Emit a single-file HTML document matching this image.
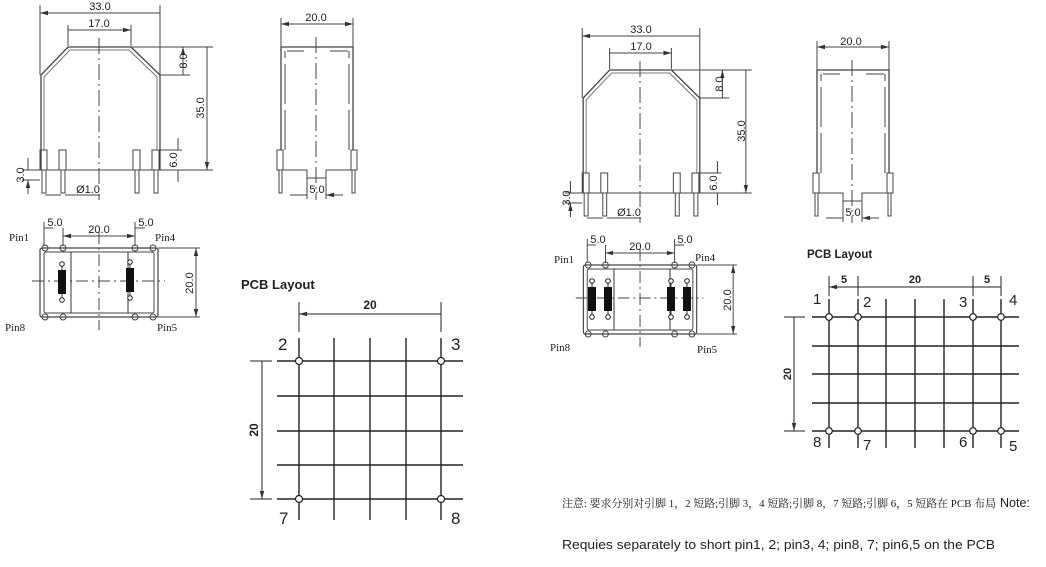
<!DOCTYPE html>
<html><head><meta charset="utf-8"><style>
html,body{margin:0;padding:0;background:#fff;}
svg{display:block;}
text{font-family:"Liberation Sans",sans-serif;fill:#222;}
.s{font-family:"Liberation Serif",serif;}
</style></head><body>
<svg width="1046" height="567" viewBox="0 0 1046 567" xmlns="http://www.w3.org/2000/svg">
<defs>
<marker id="a" markerWidth="8" markerHeight="6" refX="8" refY="3" orient="auto-start-reverse" markerUnits="userSpaceOnUse"><path d="M0,0.8 L8,3 L0,5.2z" fill="#333"/></marker>
<g id="front" stroke="#444" fill="none" stroke-width="1">
<path d="M41,170 L41,75 L68,47 L131,47 L160,75 L160,170" stroke-width="1.3"/>
<path d="M44,150 L44,77 L70,50 L129,50 L157,77 L157,150" stroke="#777"/>
<path d="M40,5 V75 M160,5 V75 M68,25 V46 M131,25 V46"/>
<path d="M40,13 H160 M68,30 H131" marker-start="url(#a)" marker-end="url(#a)"/>
<path d="M99,38 V200" stroke-dasharray="16 4 2 4"/>
<path d="M131,47 H213 M160,75 H190 M160,170 H213 M22,170 H160 M160,150 H182 M22,180 H40"/>
<path d="M183,47 V75 M207,47 V170" marker-start="url(#a)" marker-end="url(#a)"/>
<path d="M178,138 V150 M178,170 V182 M28,158 V170 M28,180 V194" />
<path d="M178,140 V150 M178,182 V170 M28,158 V170 M28,194 V180" marker-end="url(#a)"/>
<rect x="40" y="150" width="7" height="20"/><rect x="59" y="150" width="7" height="20"/>
<rect x="133" y="150" width="7" height="20"/><rect x="152" y="150" width="7" height="20"/>
<rect x="42" y="170" width="4" height="23"/><rect x="61" y="170" width="4" height="23"/>
<rect x="135" y="170" width="4" height="23"/><rect x="154" y="170" width="4" height="23"/>
<path d="M45,195 H61 M65,195 H100" />
</g>
<g id="side" stroke="#444" fill="none" stroke-width="1">
<path d="M281,150 V47 H353 V150" stroke-width="1.3"/>
<path d="M285,150 V51 M349,150 V51 M287,51 H304 M330,51 H348" stroke-dasharray="40 6"/>
<path d="M281,18 V47 M353,18 V47"/>
<path d="M281,24 H353" marker-start="url(#a)" marker-end="url(#a)"/>
<path d="M283,170 H307 V178 H326 V170 H351"/>
<path d="M316,37 V200" stroke-dasharray="16 4 2 4"/>
<rect x="277" y="150" width="6" height="20"/><rect x="351" y="150" width="6" height="20"/>
<rect x="279" y="170" width="3" height="23"/><rect x="352" y="170" width="3" height="23"/>
<path d="M307,178 V199 M326,178 V199"/>
<path d="M290,195 H307 M343,195 H326" marker-end="url(#a)"/>
</g>
<g id="bot" stroke="#444" fill="none" stroke-width="1">
<rect x="40" y="248" width="118" height="69" rx="2" stroke-width="1.2"/>
<rect x="44" y="252" width="110" height="61" rx="2"/>
<path d="M32,281 H165" stroke-dasharray="12 4 2 4"/>
<path d="M99,232 V330" stroke-dasharray="12 4 2 4"/>
<circle cx="45" cy="248" r="3"/><circle cx="63" cy="248" r="3"/><circle cx="135" cy="248" r="3"/><circle cx="153" cy="248" r="3"/>
<circle cx="45" cy="317" r="3"/><circle cx="63" cy="317" r="3"/><circle cx="135" cy="317" r="3"/><circle cx="153" cy="317" r="3"/>
<path d="M44,222 V246 M63,228 V246 M135,222 V246 M44,228 H53 M135,228 H145"/>
<path d="M63,236 H135" marker-start="url(#a)" marker-end="url(#a)"/>
<path d="M158,248 H200 M158,317 H200"/>
<path d="M196,248 V317" marker-start="url(#a)" marker-end="url(#a)"/>
</g>
</defs>

<use href="#front"/>
<use href="#side"/>
<use href="#bot"/>
<g stroke="#333" stroke-width="1" fill="none">
<path d="M71,252 V313 M128,252 V313"/>
<path d="M62,263 V302 M130,261 V300"/>
</g>
<g fill="#111"><rect x="58" y="270" width="8" height="24"/><rect x="126" y="268" width="8" height="24"/></g>
<g fill="#fff" stroke="#222"><circle cx="62" cy="264" r="2.3"/><circle cx="62" cy="300" r="2.3"/><circle cx="130" cy="262" r="2.3"/><circle cx="130" cy="298" r="2.3"/></g>
<g font-size="11" text-anchor="middle">
<text x="100" y="10">33.0</text><text x="99" y="27">17.0</text>
<text transform="translate(187,61) rotate(-90)">8.0</text>
<text transform="translate(204,108) rotate(-90)">35.0</text>
<text transform="translate(177,160) rotate(-90)">6.0</text>
<text transform="translate(24,175) rotate(-90)">3.0</text>
<text x="88" y="193">Ø1.0</text>
<text x="316" y="21">20.0</text><text x="317" y="193">5.0</text>
<text x="55" y="226">5.0</text><text x="99" y="233">20.0</text><text x="146" y="226">5.0</text>
<text transform="translate(193,283) rotate(-90)">20.0</text>
</g>
<g font-size="11" class="s">
<text class="s" x="9" y="241">Pin1</text><text class="s" x="155" y="241">Pin4</text>
<text class="s" x="5" y="331">Pin8</text><text class="s" x="157" y="331">Pin5</text>
</g>

<use href="#front" transform="translate(543,23) scale(0.98,1)"/>
<use href="#side" transform="translate(536,23)"/>
<use href="#bot" transform="translate(545,17) scale(0.96,1)"/>
<g transform="translate(545,17)">
<g stroke="#333" stroke-width="1" fill="none">
<path d="M69,252 V313 M125,252 V313"/>
<path d="M47,263 V302 M63,263 V302 M126,263 V302 M142,263 V302"/>
</g>
<g fill="#111"><rect x="43" y="270" width="8" height="24"/><rect x="59" y="270" width="8" height="24"/><rect x="122" y="270" width="8" height="24"/><rect x="138" y="270" width="8" height="24"/></g>
<g fill="#fff" stroke="#222"><circle cx="47" cy="264" r="2.3"/><circle cx="47" cy="300" r="2.3"/><circle cx="63" cy="264" r="2.3"/><circle cx="63" cy="300" r="2.3"/><circle cx="126" cy="264" r="2.3"/><circle cx="126" cy="300" r="2.3"/><circle cx="142" cy="264" r="2.3"/><circle cx="142" cy="300" r="2.3"/></g>
<g font-size="11" text-anchor="middle">
<text x="53" y="226">5.0</text><text x="95" y="233">20.0</text><text x="140" y="226">5.0</text>
<text transform="translate(186,283) rotate(-90)">20.0</text>
</g>
<g font-size="11">
<text class="s" x="9" y="246">Pin1</text><text class="s" x="150" y="244">Pin4</text>
<text class="s" x="5" y="334">Pin8</text><text class="s" x="152" y="336">Pin5</text>
</g>
</g>
<g font-size="11" text-anchor="middle">
<text x="641" y="33">33.0</text><text x="641" y="50">17.0</text>
<text transform="translate(723,84) rotate(-90)">8.0</text>
<text transform="translate(745,131) rotate(-90)">35.0</text>
<text transform="translate(717,183) rotate(-90)">6.0</text>
<text transform="translate(570,198) rotate(-90)">3.0</text>
<text x="629" y="216">Ø1.0</text>
<text x="851" y="45">20.0</text><text x="853" y="216">5.0</text>
</g>

<text x="241" y="289" font-size="13" font-weight="bold">PCB Layout</text>
<g stroke="#222" stroke-width="1.4" fill="none">
<path d="M277,361 H463 M277,396 H463 M277,431 H463 M277,465 H463 M277,499 H463"/>
<path d="M299,338 V520 M334,338 V520 M370,338 V520 M406,338 V520 M441,338 V520"/>
</g>
<g stroke="#222" stroke-width="1" fill="none">
<path d="M299,302 V332 M441,302 V332 M250,361 H272 M250,499 H272"/>
<path d="M299,314 H441 M262,361 V499" marker-start="url(#a)" marker-end="url(#a)"/>
</g>
<g fill="#fff" stroke="#222" stroke-width="1.2"><circle cx="299" cy="361" r="3.5"/><circle cx="441" cy="361" r="3.5"/><circle cx="299" cy="499" r="3.5"/><circle cx="441" cy="499" r="3.5"/></g>
<g font-size="17">
<text x="278" y="350">2</text><text x="451" y="350">3</text><text x="279" y="524">7</text><text x="451" y="524">8</text>
</g>
<text x="370" y="309" font-size="12" font-weight="bold" text-anchor="middle">20</text>
<text transform="translate(258,430) rotate(-90)" font-size="12" font-weight="bold" text-anchor="middle">20</text>

<text x="807" y="258" font-size="11.5" font-weight="bold">PCB Layout</text>
<g stroke="#222" stroke-width="1.4" fill="none">
<path d="M812,317 H1019 M812,346 H1019 M812,374 H1019 M812,403 H1019 M812,431 H1019"/>
<path d="M829,299 V448 M858,299 V448 M886,299 V448 M915,299 V448 M944,299 V448 M973,299 V448 M1001,299 V448"/>
</g>
<g stroke="#222" stroke-width="1" fill="none">
<path d="M829,276 V296 M858,276 V296 M973,276 V296 M1001,276 V296 M784,317 H805 M784,431 H805"/>
<path d="M829,287 H858 M858,287 H973 M973,287 H1001 M794,317 V431" marker-start="url(#a)" marker-end="url(#a)"/>
</g>
<g fill="#fff" stroke="#222" stroke-width="1.2"><circle cx="829" cy="317" r="3.3"/><circle cx="858" cy="317" r="3.3"/><circle cx="973" cy="317" r="3.3"/><circle cx="1001" cy="317" r="3.3"/><circle cx="829" cy="431" r="3.3"/><circle cx="858" cy="431" r="3.3"/><circle cx="973" cy="431" r="3.3"/><circle cx="1001" cy="431" r="3.3"/></g>
<g font-size="15">
<text x="813" y="304">1</text><text x="863" y="307">2</text><text x="959" y="307">3</text><text x="1009" y="305">4</text>
<text x="813" y="447">8</text><text x="863" y="450">7</text><text x="959" y="447">6</text><text x="1009" y="451">5</text>
</g>
<g font-size="11" font-weight="bold" text-anchor="middle">
<text x="844" y="283">5</text><text x="915" y="283">20</text><text x="987" y="283">5</text>
<text transform="translate(791,374) rotate(-90)">20</text>
</g>

<text x="562" y="507" font-size="11" style="font-family:'Liberation Serif','Noto Serif CJK SC',serif" textLength="434" lengthAdjust="spacingAndGlyphs">注意: 要求分别对引脚 1，2 短路;引脚 3，4 短路;引脚 8，7 短路;引脚 6，5 短路在 PCB 布局</text>
<text x="1000" y="507" font-size="12.5">Note:</text>
<text x="562" y="549" font-size="12.5" textLength="433" lengthAdjust="spacingAndGlyphs">Requies separately to short pin1, 2; pin3, 4; pin8, 7; pin6,5 on the PCB</text>
</svg>
</body></html>
